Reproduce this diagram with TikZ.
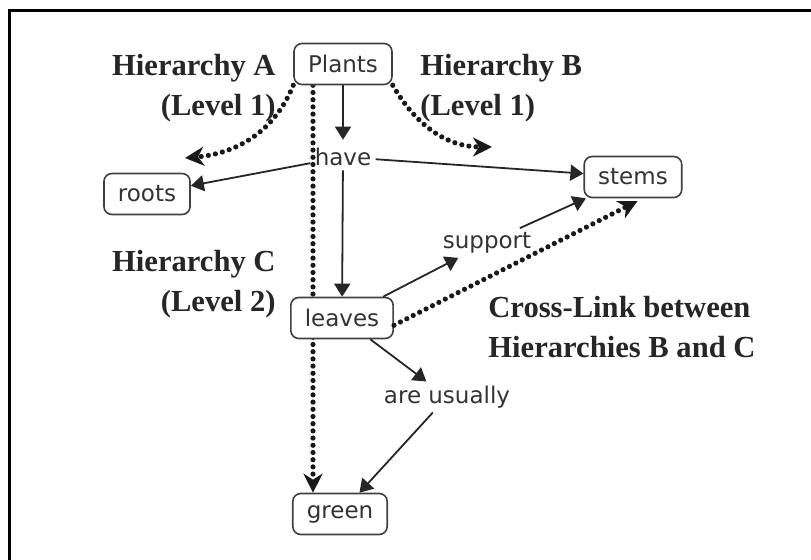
\documentclass[tikz,border=0pt]{standalone}
\usepackage{fontspec}
\setmainfont{Liberation Serif}
\newfontfamily\mapfont{DejaVu Sans}
\usetikzlibrary{arrows.meta,backgrounds}

\begin{document}
\begin{tikzpicture}[x=0.5pt,y=-0.5pt,
    concept/.style={draw=black!75,line width=0.8pt,rounded corners=4pt,fill=white,
      font=\mapfont\fontsize{11.5}{13}\selectfont,text=black!80,
      minimum height=20.5pt,inner xsep=7pt},
    linkword/.style={font=\mapfont\fontsize{11.5}{13}\selectfont,text=black!80,inner sep=2pt},
    hier/.style={font=\bfseries\fontsize{15.3}{20}\selectfont,text=black!85,inner sep=0pt},
    link/.style={-{Triangle[length=6.5pt,width=8pt]},line width=0.9pt,black!85},
    crosslink/.style={-{Stealth[length=9.5pt,width=9.5pt,inset=3pt]},line width=2.6pt,
      line cap=round,dash pattern=on 0pt off 3.6pt,black!90}]
    \useasboundingbox (0,0) rectangle (811,560);
    \draw[line width=1.5pt] (9,560) -- (9,11) -- (811,11);
    % concepts
    \node[concept] (Plants) at (343,64) {Plants};
    \node[concept] (roots) at (147,194) {roots};
    \node[concept] (stems) at (633,177) {stems};
    \node[concept] (leaves) at (342,318) {leaves};
    \node[concept] (green) at (340,514) {green};
    % linking words
    \node[linkword] (have) at (343,157) {have};
    \node[linkword] (support) at (487,243) {support};
    \node[linkword] (usually) at (447,397) {are usually};
    % hierarchy labels
    \node[hier,align=right,anchor=east] (hierA) at (276,88) {Hierarchy A\\(Level 1)};
    \node[hier,align=left,anchor=west] (hierB) at (420,88) {Hierarchy B\\(Level 1)};
    \node[hier,align=right,anchor=east] (hierC) at (276,284) {Hierarchy C\\(Level 2)};
    \node[hier,align=left,anchor=west] (cross) at (488,327) {Cross-Link between\\Hierarchies B and C};
    % links
    \draw[link,shorten >=2pt] (Plants) -- (have);
    \draw[link] (have) -- (roots);
    \draw[link] (have) -- (stems);
    \draw[link] (have) -- (leaves);
    \draw[link] (leaves) -- (support);
    \draw[link] (support) -- (stems);
    \draw[link] (leaves) -- (usually);
    \draw[link] (usually) -- (green);
    % cross-links
    \coordinate (axis) at (313,0);
    \coordinate (rootsTip) at (185,158);
    \coordinate (stemsTip) at (492,147);
    \draw[crosslink] (Plants.south west) to[out=-112,in=5] (rootsTip);
    \draw[crosslink] (Plants.south east) to[out=-60,in=180] (stemsTip);
    \draw[crosslink,shorten >=3pt] (leaves.-8) -- (stems.-65);
    \begin{scope}[on background layer]
        \draw[crosslink] (Plants.south -| axis) -- (green.north -| axis);
    \end{scope}
\end{tikzpicture}
\end{document}
